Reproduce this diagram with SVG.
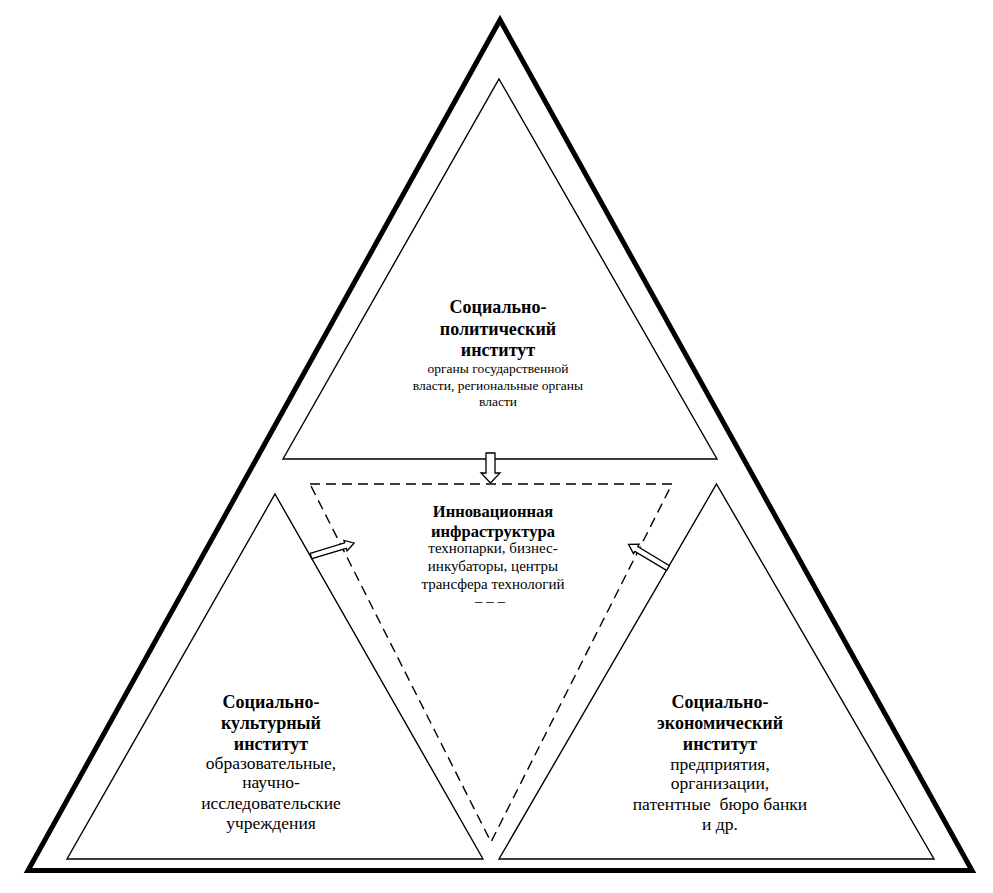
<svg xmlns="http://www.w3.org/2000/svg" width="993" height="893" viewBox="0 0 993 893">
<style>
.outer{fill:none;stroke:#000;stroke-width:5;stroke-linejoin:miter}
.inner{fill:none;stroke:#000;stroke-width:1.4}
.dash{fill:none;stroke:#000;stroke-width:1.4;stroke-dasharray:10,6}
.arrow{fill:#fff;stroke:#000;stroke-width:1.3;stroke-linejoin:miter}
text{font-family:"Liberation Serif","Times New Roman",serif;fill:#000;text-anchor:middle}
.t{font-weight:bold;font-size:18px}
.tc{font-weight:bold;font-size:16.5px}
.s{font-size:13.5px}
.c{font-size:15px}
.r{font-size:17.5px}
</style>
<rect width="993" height="893" fill="#fff"/>
<g id="outer-frame">
<polygon class="outer" points="500,20 972,870.5 28,870.5"/>
</g>
<g id="node-political">
<polygon class="inner" points="499,79 717,459 283,459"/>
<text class="t" x="498" y="313">Социально-</text>
<text class="t" x="498" y="335">политический</text>
<text class="t" x="498" y="356">институт</text>
<text class="s" x="498" y="373">органы государственной</text>
<text class="s" x="498" y="390">власти, региональные органы</text>
<text class="s" x="498" y="406">власти</text>
</g>
<g id="node-cultural">
<polygon class="inner" points="275,494 483,859 67,859"/>
<text class="t" x="271" y="708">Социально-</text>
<text class="t" x="271" y="729">культурный</text>
<text class="t" x="271" y="750">институт</text>
<text class="r" x="271" y="769">образовательные,</text>
<text class="r" x="271" y="788">научно-</text>
<text class="r" x="271" y="809">исследовательские</text>
<text class="r" x="271" y="829">учреждения</text>
</g>
<g id="node-economic">
<polygon class="inner" points="716.5,484 934,859 499,859"/>
<text class="t" x="720" y="708">Социально-</text>
<text class="t" x="720" y="729">экономический</text>
<text class="t" x="720" y="750">институт</text>
<text class="r" x="720" y="770">предприятия,</text>
<text class="r" x="720" y="789">организации,</text>
<text class="r" x="720" y="810" xml:space="preserve">патентные  бюро банки</text>
<text class="r" x="720" y="830">и др.</text>
</g>
<g id="node-infrastructure">
<polygon class="dash" points="310,484 672,484 491,842"/>
<text class="tc" x="493" y="517">Инновационная</text>
<text class="tc" x="493" y="537">инфраструктура</text>
<text class="c" x="493" y="553">технопарки, бизнес-</text>
<text class="c" x="493" y="571">инкубаторы, центры</text>
<text class="c" x="493" y="589">трансфера технологий</text>
<text class="c" x="490" y="606">– – –</text>
</g>
<g id="connectors">
<polygon class="arrow" points="486,453 495,453 495,473 500,473 490.5,483 481,473 486,473"/>
<polygon class="arrow" transform="translate(311,556) rotate(-16.8)" points="0,-2.8 36,-2.8 36,-5.5 45,0 36,5.5 36,2.8 0,2.8"/>
<polygon class="arrow" transform="translate(668,568) rotate(-149)" points="0,-2.8 37,-2.8 37,-5.5 46,0 37,5.5 37,2.8 0,2.8"/>
</g>
</svg>
